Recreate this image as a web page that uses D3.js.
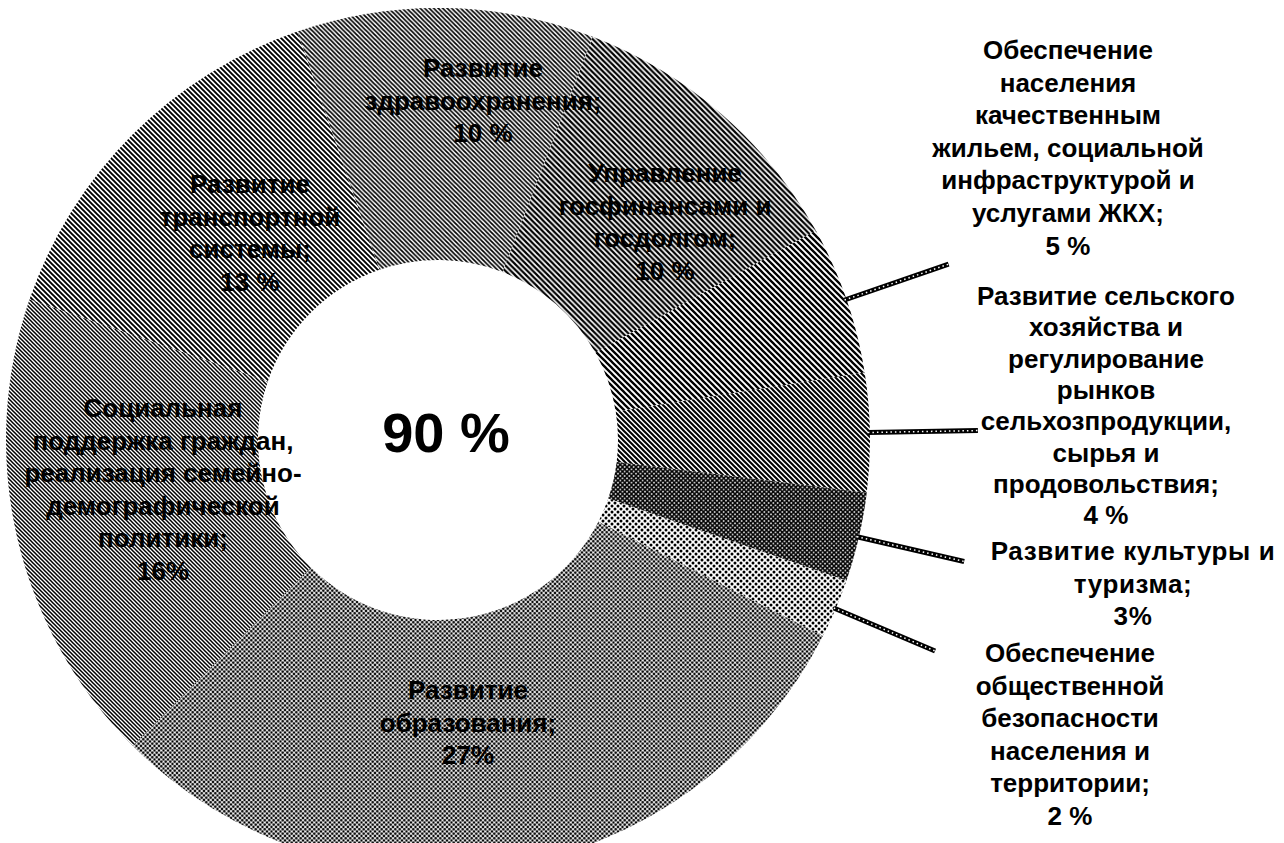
<!DOCTYPE html>
<html><head><meta charset="utf-8">
<script src="https://cdn.jsdelivr.net/npm/d3@7"></script>
<style>
html,body{margin:0;padding:0;background:#fff;}
svg{display:block;}
text{font-family:"Liberation Sans",Arial,sans-serif;font-weight:bold;fill:#000;}
</style></head>
<body>
<svg id="chart" width="1284" height="843"></svg>
<script>
// ---- data ----
const categories = [
  "Развитие здравоохранения",
  "Управление госфинансами и госдолгом",
  "Обеспечение населения качественным жильем, социальной инфраструктурой и услугами ЖКХ",
  "Развитие сельского хозяйства и регулирование рынков сельхозпродукции, сырья и продовольствия",
  "Развитие культуры и туризма",
  "Обеспечение общественной безопасности населения и территории",
  "Развитие образования",
  "Социальная поддержка граждан, реализация семейно-демографической политики",
  "Развитие транспортной системы"
];
const values = [10, 10, 5, 4, 3, 2, 27, 16, 13];
const valueLabels = ["10 %", "10 %", "5 %", "4 %", "3%", "2 %", "27%", "16%", "13 %"];
const labelLines = [
  ["Развитие", "здравоохранения;"],
  ["Управление", "госфинансами и", "госдолгом;"],
  ["Обеспечение", "населения", "качественным", "жильем, социальной", "инфраструктурой и", "услугами ЖКХ;"],
  ["Развитие сельского", "хозяйства и", "регулирование", "рынков", "сельхозпродукции,", "сырья и", "продовольствия;"],
  ["Развитие культуры и", "туризма;"],
  ["Обеспечение", "общественной", "безопасности", "населения и", "территории;"],
  ["Развитие", "образования;"],
  ["Социальная", "поддержка граждан,", "реализация семейно-", "демографической", "политики;"],
  ["Развитие", "транспортной", "системы;"]
];
const totalLabel = "90 %";

// ---- layout ----
const W = 1284, H = 843;
const cx = 438, cy = 440, rOuter = 432, rInner = 180;
const startDeg = -19;
const outsideIdx = [2, 3, 4, 5];
const labelTop = [ // x center, y of first line top
  [483, 58], [665, 163], [1068, 40], [1106, 286], [1133, 541], [1070, 643], [468, 680], [163, 398], [250, 174]
];
const labelLineH = [32.6, 32.6, 32.6, 31.3, 32.6, 32.6, 32.6, 32.6, 32.6];
const labelSpacing = [0, 0, 0, 0, 0.6, 0, 0, 0, 0];
const patternIds = ["pZdrav","pFin","pZkh","pAgro","pCult","pSec","pEdu","pSoc","pTrans"];

const svg = d3.select("#chart");
svg.append("rect").attr("width", W).attr("height", H).attr("fill", "#fff");
const defs = svg.append("defs");

function hatch(id, size, width, cross) {
  const p = defs.append("pattern").attr("id", id).attr("patternUnits", "userSpaceOnUse")
    .attr("width", size).attr("height", size);
  p.append("rect").attr("width", size).attr("height", size).attr("fill", "#fff");
  p.append("path").attr("d", `M-1,-1 L${size+1},${size+1} M${-1-size},-1 L1,${size+1} M${size-1},-1 L${2*size+1},${size+1}`)
    .attr("stroke", "#000").attr("stroke-width", width);
  if (cross) {
    p.append("path").attr("d", `M${size+1},-1 L-1,${size+1} M${2*size+1},-1 L${size-1},${size+1} M1,-1 L${-size-1},${size+1}`)
      .attr("stroke", "#000").attr("stroke-width", width);
  }
}
function dots(id, size, r) {
  const p = defs.append("pattern").attr("id", id).attr("patternUnits", "userSpaceOnUse")
    .attr("width", size).attr("height", size);
  p.append("rect").attr("width", size).attr("height", size).attr("fill", "#fff");
  [[0,0],[size,0],[0,size],[size,size],[size/2,size/2]].forEach(([x,y]) =>
    p.append("circle").attr("cx", x).attr("cy", y).attr("r", r).attr("fill", "#000"));
}
hatch("pZdrav", 4.5, 1.7, false);
hatch("pFin", 5.5, 2.2, false);
hatch("pZkh", 6, 2.3, false);
hatch("pAgro", 5, 2.0, false);
hatch("pCult", 4.5, 1.6, true);
dots("pSec", 6, 1.5);
dots("pEdu", 4.5, 1.3);
hatch("pSoc", 4, 1.5, false);
hatch("pTrans", 5, 1.9, false);

const pie = d3.pie().sort(null).value(d => d)
  .startAngle(startDeg * Math.PI / 180).endAngle(startDeg * Math.PI / 180 + 2 * Math.PI);
const arcs = pie(values);
const arc = d3.arc().innerRadius(rInner).outerRadius(rOuter);

const g = svg.append("g").attr("transform", `translate(${cx},${cy})`);
g.selectAll("path.slice").data(arcs).join("path").attr("class", "slice")
  .attr("d", arc).attr("fill", (d, i) => `url(#${patternIds[i]})`);

// leader lines
const lineStart = d3.arc().innerRadius(rOuter - 2).outerRadius(rOuter - 2);
const lineEnd = d3.arc().innerRadius(540).outerRadius(540);
outsideIdx.forEach(i => {
  const a = arcs[i];
  const p0 = lineStart.centroid(a), p1 = lineEnd.centroid(a);
  g.append("line").attr("x1", p0[0]).attr("y1", p0[1]).attr("x2", p1[0]).attr("y2", p1[1])
    .attr("stroke", "#000").attr("stroke-width", 5);
  g.append("line").attr("x1", p0[0]).attr("y1", p0[1]).attr("x2", p1[0]).attr("y2", p1[1])
    .attr("stroke", "#fff").attr("stroke-width", 1.5).attr("stroke-dasharray", "1.5,3");
});

// labels
values.forEach((v, i) => {
  const lines = labelLines[i].concat([valueLabels[i]]);
  const [lx, ly] = labelTop[i];
  const t = svg.append("text").attr("text-anchor", "middle").attr("font-size", 26)
    .attr("letter-spacing", labelSpacing[i]);
  lines.forEach((ln, k) => {
    t.append("tspan").attr("x", lx).attr("y", ly + 19 + k * labelLineH[i]).text(ln);
  });
});

// center label
svg.append("text").attr("x", 446).attr("y", 452).attr("text-anchor", "middle")
  .attr("font-size", 56).text(totalLabel);
</script>
</body></html>
